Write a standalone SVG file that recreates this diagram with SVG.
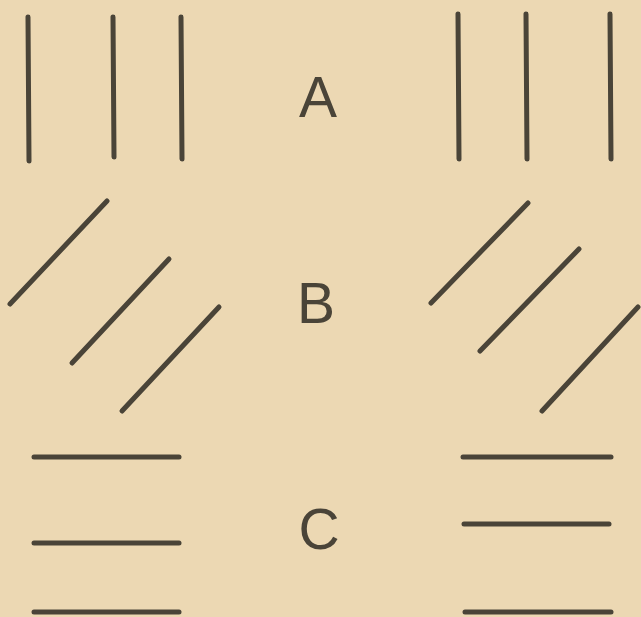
<svg xmlns="http://www.w3.org/2000/svg" width="641" height="617" viewBox="0 0 641 617">
<style>
.ln{stroke:#4a4438;stroke-width:5;stroke-linecap:round;fill:none}
.lb{font-family:"Liberation Sans","DejaVu Sans",sans-serif;font-size:57px;fill:#4a4438;text-anchor:middle}
</style>
<rect x="0" y="0" width="641" height="617" fill="#ecd8b3"/>
<g id="row-A">
<line class="ln" x1="28" y1="17" x2="29" y2="161"/>
<line class="ln" x1="113" y1="17" x2="114" y2="157"/>
<line class="ln" x1="181" y1="17" x2="182" y2="159"/>
<line class="ln" x1="458" y1="14" x2="459" y2="159"/>
<line class="ln" x1="526" y1="14" x2="527" y2="159"/>
<line class="ln" x1="610" y1="14" x2="611" y2="159"/>
<text class="lb" x="318" y="117">A</text>
</g>
<g id="row-B">
<line class="ln" x1="107" y1="201" x2="10" y2="304"/>
<line class="ln" x1="169" y1="259" x2="72" y2="363"/>
<line class="ln" x1="219" y1="307" x2="122" y2="411"/>
<line class="ln" x1="528" y1="203" x2="431" y2="303"/>
<line class="ln" x1="579" y1="249" x2="480" y2="351"/>
<line class="ln" x1="638" y1="307" x2="542" y2="411"/>
<text class="lb" x="316" y="323">B</text>
</g>
<g id="row-C">
<line class="ln" x1="34" y1="457" x2="179" y2="457"/>
<line class="ln" x1="34" y1="543" x2="179" y2="543"/>
<line class="ln" x1="34" y1="612" x2="179" y2="612"/>
<line class="ln" x1="463" y1="457" x2="611" y2="457"/>
<line class="ln" x1="464" y1="524" x2="609" y2="524"/>
<line class="ln" x1="465" y1="612" x2="611" y2="612"/>
<text class="lb" x="319" y="549">C</text>
</g>
</svg>
